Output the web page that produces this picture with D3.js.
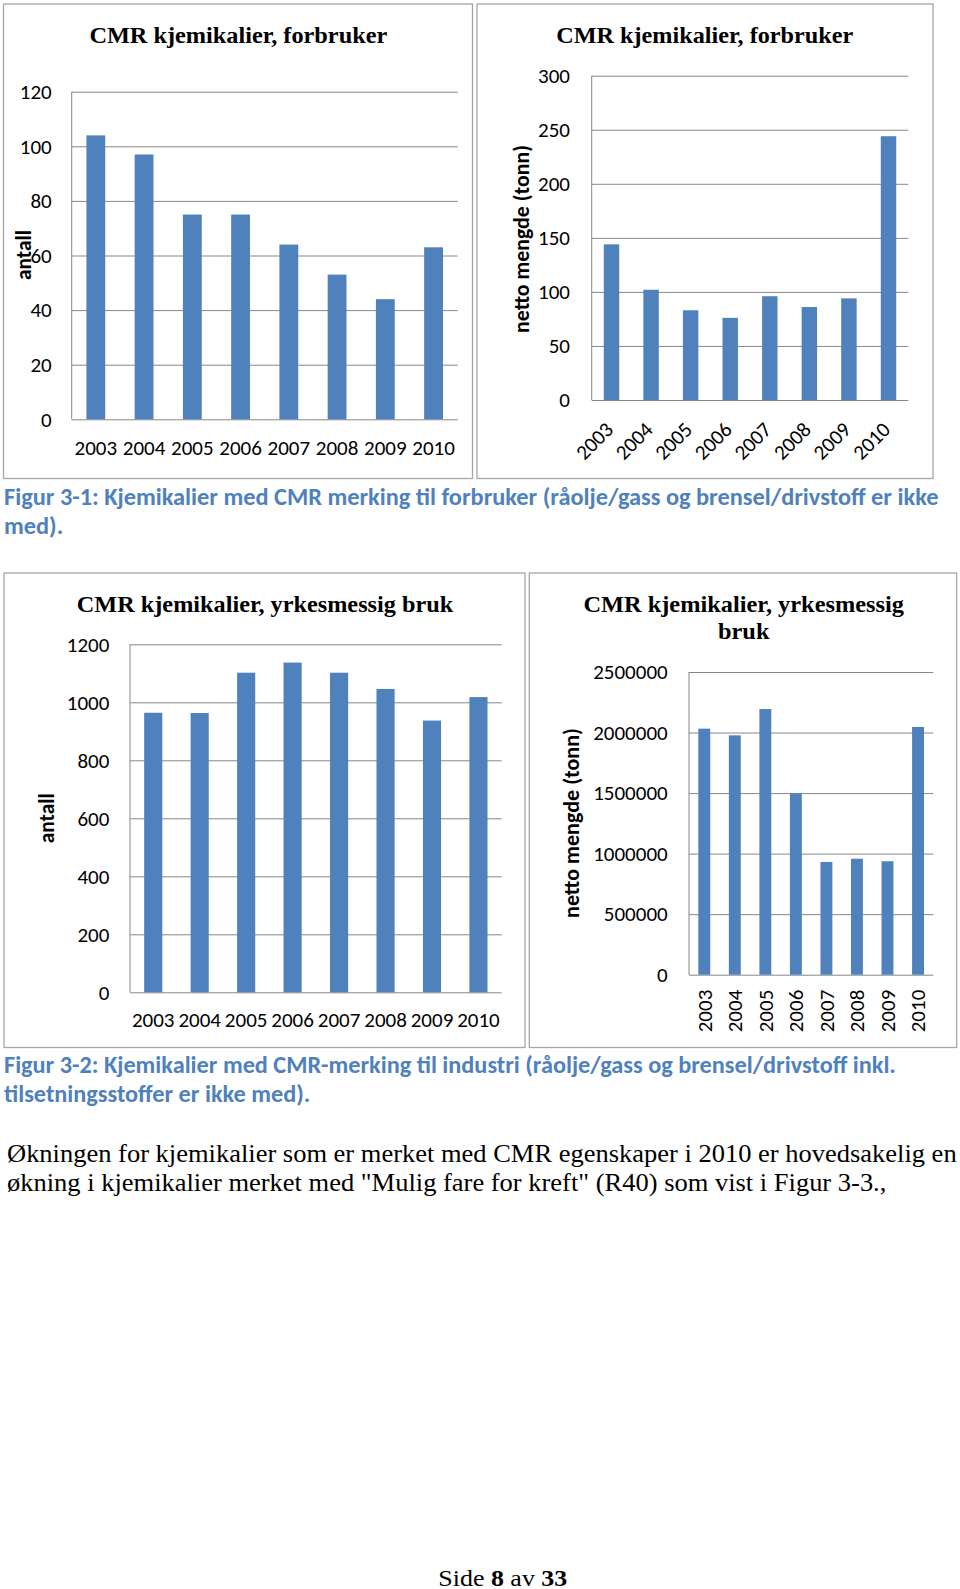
<!DOCTYPE html>
<html>
<head>
<meta charset="utf-8">
<script src="https://cdn.jsdelivr.net/npm/d3@7"></script>
<style>
  html, body { margin: 0; padding: 0; background: #fff; }
  svg { display: block; }
</style>
</head>
<body>
<svg id="page" width="960" height="1589"></svg>
<script>
// ---------------- DATA ----------------
const years = ["2003", "2004", "2005", "2006", "2007", "2008", "2009", "2010"];
const antallForbruker = [104, 97, 75, 75, 64, 53, 44, 63];
const tonnForbruker = [144, 102, 83, 76, 96, 86, 94, 244];
const antallYrke = [964, 963, 1102, 1137, 1102, 1046, 937, 1018];
const tonnYrke = [2032000, 1977000, 2194000, 1498000, 931000, 958000, 937000, 2046000];

const ticksAntallForbruker = [0, 20, 40, 60, 80, 100, 120];
const ticksTonnForbruker = [0, 50, 100, 150, 200, 250, 300];
const ticksAntallYrke = [0, 200, 400, 600, 800, 1000, 1200];
const ticksTonnYrke = [0, 500000, 1000000, 1500000, 2000000, 2500000];

const titleForbruker = ["CMR kjemikalier, forbruker"];
const titleYrke = ["CMR kjemikalier, yrkesmessig bruk"];
const titleYrkeWrapped = ["CMR kjemikalier, yrkesmessig", "bruk"];
const labelAntall = "antall";
const labelTonn = "netto mengde (tonn)";

const caption1 = ["Figur 3-1: Kjemikalier med CMR merking til forbruker (råolje/gass og brensel/drivstoff er ikke", "med)."];
const caption2 = ["Figur 3-2: Kjemikalier med CMR-merking til industri (råolje/gass og brensel/drivstoff inkl.", "tilsetningsstoffer er ikke med)."];
const paragraph = ["Økningen for kjemikalier som er merket med CMR egenskaper i 2010 er hovedsakelig en", "økning i kjemikalier merket med \"Mulig fare for kreft\" (R40) som vist i Figur 3-3.,"];
const footerParts = [["Side ", "normal"], ["8", "bold"], [" av ", "normal"], ["33", "bold"]];

// ---------------- STYLE ----------------
const SANS = "Carlito, Calibri, Lato, 'Open Sans', sans-serif";
const SERIF = "'Liberation Serif', 'Times New Roman', 'DejaVu Serif', serif";
const BAR = "#4F81BD";
const GRID = "#878787";
const BOX = "#a6a6a6";
const CAPTION = "#4F81BD";
const TICK_SIZE = 21;

const svg = d3.select("#page");
svg.append("rect").attr("width", 960).attr("height", 1589).attr("fill", "#fff");

// lines of text sharing one horizontal squeeze factor (or font-size fit), fitted on a reference line
function textBlock(g, lines, o) {
  const nodes = lines.map((s) => g.append("text")
    .attr("font-family", o.font).attr("font-size", o.size)
    .attr("font-weight", o.weight || "normal").attr("fill", o.fill || "#000")
    .attr("text-anchor", o.anchor || "start")
    .style("white-space", "pre")
    .text(s));
  let k = 1;
  if (o.refWidth) {
    const w = nodes[o.ref || 0].node().getComputedTextLength();
    k = o.refWidth / w;
    if (o.fitSize) {
      nodes.forEach(n => n.attr("font-size", o.size * k));
      k = 1;
    }
  }
  nodes.forEach((n, i) => n.attr("transform", `translate(${o.x},${o.baselines[i]}) scale(${k},1)`));
  return nodes;
}

function drawChart(cfg) {
  const g = svg.append("g");
  const [bx0, by0, bx1, by1] = cfg.box;
  g.append("rect").attr("x", bx0).attr("y", by0).attr("width", bx1 - bx0).attr("height", by1 - by0)
    .attr("fill", "#fff").attr("stroke", BOX).attr("stroke-width", 1.3);

  const p = cfg.plot;
  const x = d3.scaleBand().domain(years).range([p.l, p.r]).paddingInner(0.61).paddingOuter(0.305);
  const y = d3.scaleLinear().domain([0, d3.max(cfg.ticks)]).range([p.b, p.t]);

  // gridlines
  const grid = g.append("g").attr("transform", `translate(${p.l},0)`)
    .call(d3.axisLeft(y).tickValues(cfg.ticks).tickSize(-(p.r - p.l)).tickFormat(""));
  grid.select(".domain").remove();
  grid.selectAll("line").attr("stroke", GRID).attr("stroke-width", 1);

  // vertical axis line
  g.append("line").attr("x1", p.l).attr("x2", p.l).attr("y1", y(0)).attr("y2", y(d3.max(cfg.ticks)))
    .attr("stroke", GRID).attr("stroke-width", 1);

  // bars
  g.append("g").selectAll("rect").data(cfg.values).join("rect")
    .attr("x", (d, i) => x(years[i]))
    .attr("y", d => y(d))
    .attr("width", x.bandwidth())
    .attr("height", d => y(0) - y(d))
    .attr("fill", BAR);

  // y tick labels
  const yax = g.append("g").attr("transform", `translate(${p.l},0)`)
    .call(d3.axisLeft(y).tickValues(cfg.ticks).tickSize(0).tickPadding(p.l - cfg.labelRight).tickFormat(d3.format("d")));
  yax.select(".domain").remove();
  yax.selectAll("text").attr("font-family", SANS).attr("font-size", TICK_SIZE).attr("fill", "#000");

  // x labels
  const xl = g.append("g").selectAll("text").data(years).join("text")
    .attr("font-family", SANS).attr("font-size", TICK_SIZE).attr("fill", "#000")
    .text(d => d);
  const cx = d => x(d) + x.bandwidth() / 2;
  if (cfg.xMode === "flat") {
    xl.attr("x", cx).attr("y", cfg.xBaseline).attr("text-anchor", "middle");
  } else if (cfg.xMode === "diag") {
    xl.attr("text-anchor", "end")
      .attr("transform", d => `translate(${cx(d) + 3},${p.b + 31}) rotate(-45)`);
  } else {
    xl.attr("text-anchor", "end").attr("dy", "0.35em")
      .attr("transform", d => `translate(${cx(d)},${p.b + 15}) rotate(-90)`);
  }

  // y axis title (fitted to the length it has in the picture)
  const yl = g.append("text").attr("font-family", SANS).attr("font-size", 20).attr("font-weight", "bold")
    .attr("text-anchor", "middle").attr("dy", "0.35em")
    .attr("transform", `translate(${cfg.yLabel.x},${cfg.yLabel.y}) rotate(-90)`)
    .text(cfg.yLabel.text);
  const wl = yl.node().getComputedTextLength();
  yl.attr("font-size", 20 * cfg.yLabel.len / wl);

  // chart title
  textBlock(g, cfg.title.lines, {
    font: SERIF, size: 23, weight: "bold", anchor: "middle",
    x: cfg.title.cx, baselines: cfg.title.baselines, refWidth: cfg.title.width, ref: 0
  });
}

drawChart({
  box: [3.5, 4, 472.5, 478.5],
  plot: { l: 71.7, t: 91.7, r: 457.7, b: 419.3 },
  values: antallForbruker, ticks: ticksAntallForbruker, labelRight: 51.7,
  xMode: "flat", xBaseline: 455,
  yLabel: { text: labelAntall, x: 23.3, y: 255, len: 50 },
  title: { lines: titleForbruker, cx: 238.3, baselines: [43.3], width: 298 }
});
drawChart({
  box: [477, 4, 933, 478.5],
  plot: { l: 591.7, t: 75.7, r: 908.3, b: 400 },
  values: tonnForbruker, ticks: ticksTonnForbruker, labelRight: 570,
  xMode: "diag",
  yLabel: { text: labelTonn, x: 521.7, y: 239, len: 188 },
  title: { lines: titleForbruker, cx: 704.7, baselines: [43.3], width: 297 }
});
drawChart({
  box: [4, 573, 525, 1047.5],
  plot: { l: 130, t: 644.3, r: 501.7, b: 992.3 },
  values: antallYrke, ticks: ticksAntallYrke, labelRight: 109.3,
  xMode: "flat", xBaseline: 1027,
  yLabel: { text: labelAntall, x: 46.7, y: 818.3, len: 50 },
  title: { lines: titleYrke, cx: 265, baselines: [611.7], width: 376.7 }
});
drawChart({
  box: [529.3, 573, 956.7, 1047.5],
  plot: { l: 689, t: 672, r: 933.3, b: 974.7 },
  values: tonnYrke, ticks: ticksTonnYrke, labelRight: 667.7,
  xMode: "vert",
  yLabel: { text: labelTonn, x: 571.7, y: 823, len: 190 },
  title: { lines: titleYrkeWrapped, cx: 743.7, baselines: [611.7, 639], width: 320.7 }
});

// captions
textBlock(svg.append("g"), caption1, {
  font: SANS, size: 20, weight: "bold", fill: CAPTION,
  x: 4, baselines: [505, 534], refWidth: 935, ref: 0, fitSize: true
});
textBlock(svg.append("g"), caption2, {
  font: SANS, size: 20, weight: "bold", fill: CAPTION,
  x: 4, baselines: [1073, 1102], refWidth: 892, ref: 0, fitSize: true
});

// paragraph
textBlock(svg.append("g"), paragraph, {
  font: SERIF, size: 25, x: 7, baselines: [1162, 1191], refWidth: 950, ref: 0
});

// footer
const fg = svg.append("g");
const ft = fg.append("text").attr("font-family", SERIF).attr("font-size", 24)
  .attr("text-anchor", "middle");
ft.selectAll("tspan").data(footerParts).join("tspan")
  .attr("font-weight", d => d[1]).text(d => d[0]).style("white-space", "pre");
const fw = ft.node().getComputedTextLength();
ft.attr("transform", `translate(502.8,1585.5) scale(${129 / fw},1)`);
</script>
</body>
</html>
